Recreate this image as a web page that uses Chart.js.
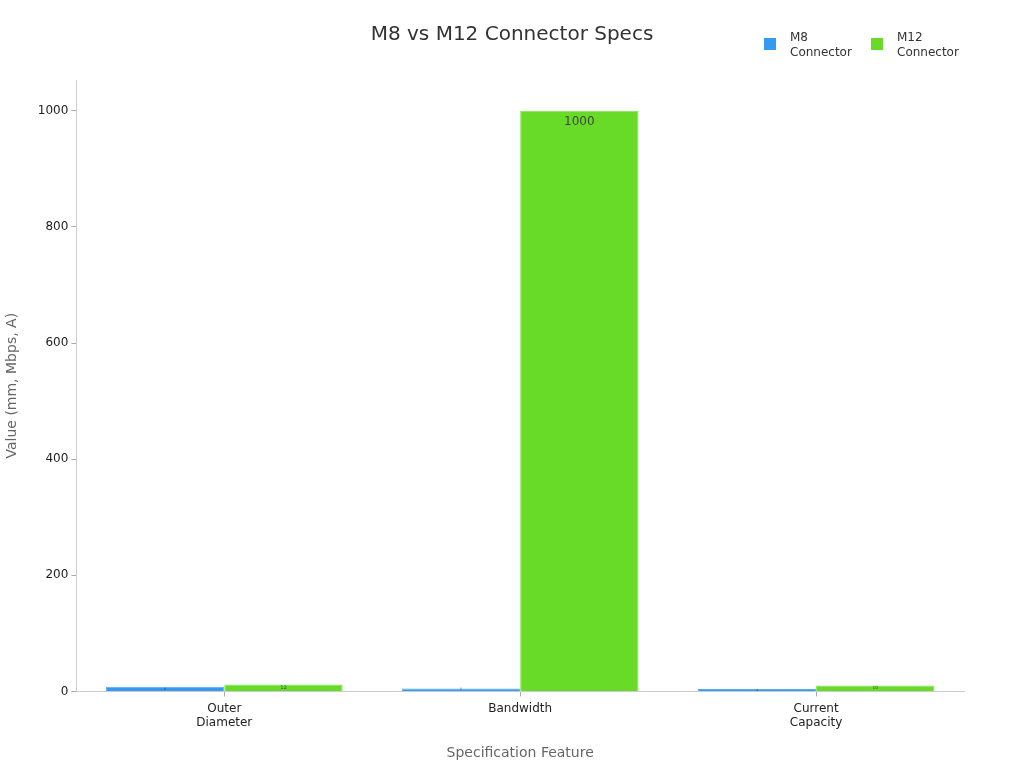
<!DOCTYPE html>
<html>
<head>
  <meta charset="utf-8">
  <title>M8 vs M12 Connector Specs</title>
  <script src="https://cdn.jsdelivr.net/npm/chart.js"></script>
  <style>
    body { margin: 0; background: #fff; }
    #wrap { width: 1024px; height: 768px; }
  </style>
</head>
<body>
  <div id="wrap"><canvas id="chart"></canvas></div>
  <script>
    const chartTitle = 'M8 vs M12 Connector Specs';
    const categories = [["Outer", "Diameter"], "Bandwidth", ["Current", "Capacity"]];
    const m8Values = [8, 5, 4];
    const m12Values = [12, 1000, 10];
    const seriesNames = [["M8", "Connector"], ["M12", "Connector"]];
    const yTicks = [0, 200, 400, 600, 800, 1000];

    Chart.defaults.font.family = "'DejaVu Sans', sans-serif";
    Chart.defaults.color = '#333';

    // value labels inside the top of each bar, shrunk for tiny bars
    const barLabels = {
      id: 'barLabels',
      afterDatasetsDraw(chart) {
        const ctx = chart.ctx;
        chart.data.datasets.forEach((ds, i) => {
          chart.getDatasetMeta(i).data.forEach((bar, j) => {
            const h = bar.base - bar.y;
            const size = Math.max(3, Math.min(12, h * 0.8));
            ctx.save();
            ctx.font = size + "px 'DejaVu Sans'";
            ctx.fillStyle = '#444';
            ctx.textAlign = 'center';
            ctx.textBaseline = 'middle';
            const y = h > 20 ? bar.y + 11 : bar.y + h / 2;
            ctx.fillText(String(ds.data[j]), bar.x, y);
            ctx.restore();
          });
        });
      }
    };

    // page-centred title and a legend with two-line labels, top right
    const header = {
      id: 'header',
      afterDraw(chart) {
        const ctx = chart.ctx;
        ctx.save();
        ctx.font = "20px 'DejaVu Sans'";
        ctx.fillStyle = '#333';
        ctx.textAlign = 'center';
        ctx.textBaseline = 'middle';
        ctx.fillText(chartTitle, chart.width / 2, 35);

        const xs = [764, 871];
        ctx.font = "12px 'DejaVu Sans'";
        ctx.textAlign = 'left';
        chart.data.datasets.forEach((ds, i) => {
          ctx.fillStyle = ds.backgroundColor;
          ctx.fillRect(xs[i], 38, 12, 12);
          ctx.fillStyle = '#333';
          ds.label.forEach((line, k) => ctx.fillText(line, xs[i] + 26, 38 + k * 15));
        });
        ctx.restore();
      }
    };

    new Chart(document.getElementById('chart'), {
      type: 'bar',
      data: {
        labels: categories,
        datasets: [
          { label: seriesNames[0], data: m8Values, backgroundColor: '#3399f3', borderColor: '#5aaef5', borderWidth: 1 },
          { label: seriesNames[1], data: m12Values, backgroundColor: '#67db27', borderColor: '#85e352', borderWidth: 1 }
        ]
      },
      options: {
        responsive: true,
        maintainAspectRatio: false,
        animation: false,
        layout: { padding: { left: 0, right: 60, top: 80, bottom: 2 } },
        datasets: { bar: { categoryPercentage: 0.8, barPercentage: 1.0 } },
        plugins: {
          title: { display: false },
          legend: { display: false },
          tooltip: { enabled: false }
        },
        scales: {
          x: {
            grid: { display: true, drawOnChartArea: false, offset: false, color: '#aaa', tickLength: 5 },
            border: { color: '#ccc' },
            ticks: { color: '#222', font: { size: 12 }, padding: 5 },
            title: { display: true, text: 'Specification Feature', color: '#666', font: { size: 14 }, padding: { top: 10 } }
          },
          y: {
            min: 0,
            max: 1053,
            afterBuildTicks(axis) { axis.ticks = yTicks.map(v => ({ value: v })); },
            grid: { display: true, drawOnChartArea: false, color: '#aaa', tickLength: 5 },
            border: { color: '#ccc' },
            ticks: { color: '#222', font: { size: 12 }, callback: v => String(v) },
            title: { display: true, text: 'Value (mm, Mbps, A)', color: '#666', font: { size: 14 }, padding: { bottom: 14 } }
          }
        }
      },
      plugins: [barLabels, header]
    });
  </script>
</body>
</html>
